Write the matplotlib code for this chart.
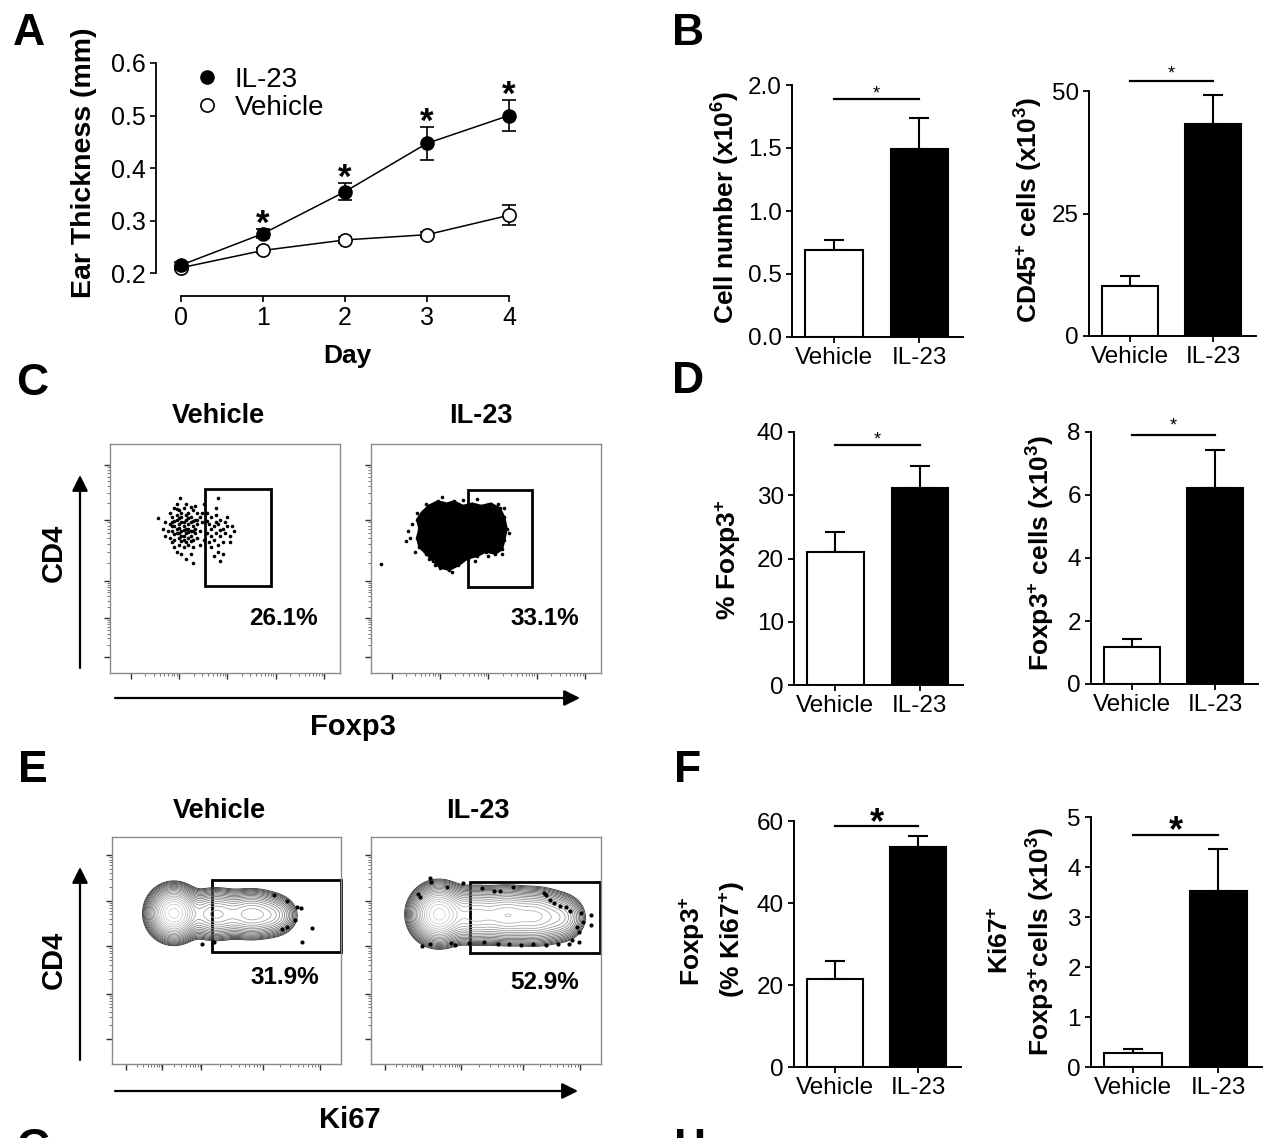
import numpy as np
import matplotlib
matplotlib.use("Agg")
from matplotlib import pyplot as plt
from matplotlib.lines import Line2D
from matplotlib.patches import Rectangle, Polygon, FancyArrowPatch

plt.rcParams['font.family'] = ['Liberation Sans', 'DejaVu Sans']
plt.rcParams['mathtext.fontset'] = 'custom'
plt.rcParams['mathtext.rm'] = 'Liberation Sans'
plt.rcParams['mathtext.bf'] = 'Liberation Sans:bold'
plt.rcParams['mathtext.it'] = 'Liberation Sans:italic'

W, H = 1266, 1138

# ---------------- data ----------------
days = [0, 1, 2, 3, 4]
il23_thick = [0.215, 0.275, 0.355, 0.447, 0.500]
il23_thick_err = [0.006, 0.008, 0.016, 0.032, 0.030]
veh_thick = [0.210, 0.243, 0.263, 0.273, 0.310]
veh_thick_err = [0.004, 0.005, 0.005, 0.005, 0.019]

groups = ['Vehicle', 'IL-23']
cell_number = [0.69, 1.49]
cell_number_err = [0.08, 0.25]
cd45_cells = [10.3, 43.3]
cd45_cells_err = [2.0, 5.8]
foxp3_pct = [21.1, 31.2]
foxp3_pct_err = [3.1, 3.5]
foxp3_cells = [1.16, 6.23]
foxp3_cells_err = [0.26, 1.21]
ki67_pct = [21.5, 53.7]
ki67_pct_err = [4.4, 2.7]
ki67_cells = [0.29, 3.53]
ki67_cells_err = [0.07, 0.83]

foxp3_gate_pct = ['26.1%', '33.1%']
ki67_gate_pct = ['31.9%', '52.9%']

# flow events (0-100 display units), Vehicle CD4/Foxp3 dot plot
veh_foxp3_pts = [
    (26, 70), (28, 72), (30, 71), (32, 72), (34, 70), (36, 71), (38, 70), (27, 68), (29, 67),
    (31, 68), (33, 67), (35, 68), (37, 67), (39, 68), (26, 65), (28, 64), (30, 65), (32, 64),
    (34, 65), (36, 64), (38, 65), (40, 66), (27, 62), (29, 61), (31, 62), (33, 61), (35, 62),
    (37, 61), (39, 62), (26, 59), (28, 58), (30, 59), (32, 58), (34, 59), (36, 58), (38, 59),
    (28, 55), (30, 56), (32, 55), (34, 56), (36, 55), (31, 52), (33, 50), (29, 53), (35, 52),
    (25, 62), (24, 66), (24, 60), (37, 73), (33, 74), (29, 74), (27, 66), (31, 66), (35, 66),
    (29, 63), (33, 63), (37, 63), (31, 60), (35, 60), (29, 69), (33, 69),
    (28, 66.5), (30, 67.5), (32, 66), (34, 67.5), (36, 66.5), (30, 63.5), (32, 62.5), (34, 63),
    (36, 62), (28, 60.5), (30, 61), (32, 60), (34, 61.5), (31, 57.5), (33, 57), (35, 57.5),
    (29, 71.5), (31, 70), (35, 72.5), (27, 64), (38, 67),
    (42, 70), (44, 68), (46, 69), (48, 67), (50, 66), (43, 65), (45, 64), (47, 65), (49, 63),
    (51, 64), (42, 61), (44, 60), (46, 61), (48, 60), (50, 61), (52, 60), (43, 57), (45, 58),
    (47, 56), (49, 57), (41, 58), (44, 55), (47, 53), (49, 52), (45, 51), (51, 68), (46, 72),
    (41, 74), (53, 64), (52, 57), (44, 63), (46, 66), (48, 62.5), (42, 66.5),
    (21, 67.7), (30.5, 76.4), (47, 76.4), (48, 49), (36, 48), (40, 70), (39, 56), (23, 63),
    (54, 62), (27, 57),
]
# IL-23 CD4/Foxp3 dot plot: outline of the saturated cloud plus edge events
il23_foxp3_outline = [
    (22, 70), (25, 73), (29, 75), (33, 74), (36, 75), (40, 73), (44, 74), (48, 73), (52, 74),
    (56, 72), (58, 68), (59, 63), (58, 58), (57, 54), (54, 52), (50, 53), (46, 51), (42, 50),
    (38, 47), (34, 45), (30, 46), (27, 49), (24, 52), (21, 55), (20, 59), (21, 63), (20, 67),
]
il23_foxp3_pts = [
    (15, 57.5), (16, 62), (17, 59), (18, 65), (19, 53), (20, 70), (24, 74), (31, 77), (40, 75.5),
    (46, 76), (55, 74), (58, 72), (60, 61), (57, 52), (51, 51), (35, 44), (28, 47), (25, 50),
    (45, 49), (53, 55), (4.3, 47.6),
]
# CD4/Ki67 contour plots: density peaks (x, y, sx, sy, weight) and outlier events
veh_ki67_peaks = [(27, 66.4, 4.6, 4.8, 1.0), (45, 66, 6, 4.6, 0.3),
                  (61, 66, 6, 4.4, 0.32), (71, 65.5, 4.5, 4.0, 0.12)]
il23_ki67_peaks = [(29.5, 66, 5.0, 5.2, 1.0), (45, 65.5, 6, 5.0, 0.38), (59, 65.5, 6, 5.0, 0.4),
                   (72, 65, 6, 5.0, 0.35), (83, 64.5, 4.5, 4.5, 0.15)]
veh_ki67_pts = [(70.8, 74.4), (76.5, 71.9), (81, 69.3), (82.4, 68.6), (79.7, 63.4), (76.5, 60.2),
                (87.3, 60), (82.8, 53.9), (39.2, 52.9), (44.6, 53.9), (74.4, 59.5)]
il23_ki67_pts = [
    (25.8, 81.8), (26.2, 80.3), (33, 78.1), (40.1, 79.6), (48.2, 77.4), (53.6, 76.4), (55.9, 76.4),
    (61.6, 77.8), (75.1, 75.2), (76, 74.4), (77.8, 72.2), (79.6, 70.8), (82.3, 69.6), (84.9, 69.3),
    (86.7, 67.5), (91.2, 66.7), (95.7, 65.6), (92.1, 62.7), (95.7, 61.2), (89.4, 60.5), (90.3, 58.3),
    (87.6, 54.6), (90.3, 53.9), (85.9, 52.9), (81.4, 52.9), (76, 52.4), (70.6, 52.7), (65.2, 52.4),
    (59.9, 52.9), (55.4, 52.9), (49.1, 53.9), (42.8, 53.2), (36.6, 52.4), (34.8, 53.2), (25.8, 52.9),
    (22.2, 52.1), (20.4, 74.9), (21.3, 73.7),
]

fig = plt.figure(figsize=(W / 100, H / 100), dpi=100)


def px_axes(left, top, right, bottom):
    return fig.add_axes([left / W, 1 - bottom / H, (right - left) / W, (bottom - top) / H])


def fig_text(x, y, s, **kw):
    fig.text(x / W, 1 - y / H, s, **kw)


def fig_arrow(x0, y0, x1, y1):
    fig.add_artist(FancyArrowPatch((x0 / W, 1 - y0 / H), (x1 / W, 1 - y1 / H),
                                   transform=fig.transFigure, arrowstyle='-|>',
                                   mutation_scale=24, lw=1.6, color='black',
                                   shrinkA=0, shrinkB=0))


# ---------------- A: ear thickness ----------------
axA = px_axes(156, 63, 516, 296)
axA.errorbar(days, veh_thick, yerr=veh_thick_err, fmt='o-', color='black', mfc='white',
             mec='black', ms=9.5, mew=1.2, lw=1.1, capsize=5, elinewidth=1.2, capthick=1.2)
axA.errorbar(days, il23_thick, yerr=il23_thick_err, fmt='o-', color='black', mfc='black',
             ms=9.5, lw=1.1, capsize=5, elinewidth=1.2, capthick=1.2)
for d in days[1:]:
    axA.annotate('*', (d, il23_thick[d] + il23_thick_err[d]), xytext=(0, -3.5),
                 textcoords='offset points', ha='center', va='baseline',
                 fontsize=25, fontweight='bold')
axA.set_xlim(-0.305, 4.085)
axA.set_ylim(0.1562, 0.6)
axA.spines[['top', 'right']].set_visible(False)
axA.spines['left'].set_bounds(0.2, 0.6)
axA.spines['bottom'].set_bounds(0, 4)
for s in ['left', 'bottom']:
    axA.spines[s].set_linewidth(1.3)
axA.set_xticks(days)
axA.set_yticks([0.2, 0.3, 0.4, 0.5, 0.6])
axA.set_yticklabels(['0.2', '0.3', '0.4', '0.5', '0.6'])
axA.tick_params(direction='out', length=4.3, width=1.2, labelsize=18, pad=3)
handles = [Line2D([], [], ls='none', marker='o', ms=9.5, mfc='black', mec='black'),
           Line2D([], [], ls='none', marker='o', ms=9.5, mfc='white', mec='black', mew=1.2)]
axA.legend(handles, ['IL-23', 'Vehicle'], loc='upper left', frameon=False, fontsize=20,
           bbox_to_anchor=(193 / W, 1 - 67 / H), bbox_transform=fig.transFigure,
           borderpad=0, borderaxespad=0, handlelength=1, handletextpad=0.5, labelspacing=0.08)
fig_text(84, 163, 'Ear Thickness (mm)', rotation=90, ha='center', va='center',
         fontsize=20.5, fontweight='bold')
fig_text(347, 363, 'Day', ha='center', va='baseline', fontsize=19, fontweight='bold')

# ---------------- B, D, F: bar charts ----------------
bar_panels = [
    dict(box=(792, 85, 963, 337), vals=cell_number, errs=cell_number_err, ylim=2.0,
         ticks=['0.0', '0.5', '1.0', '1.5', '2.0'], sig=1.886, gap=12, big=False,
         label=[(726, 207, r'Cell number (x10$^{\mathbf{6}}$)')]),
    dict(box=(1089, 91, 1256, 336), vals=cd45_cells, errs=cd45_cells_err, ylim=50,
         ticks=['0', '25', '50'], sig=52.0, gap=13, big=False,
         label=[(1029, 210, r'CD45$^{\mathbf{+}}$ cells (x10$^{\mathbf{3}}$)')]),
    dict(box=(794, 432, 963, 685), vals=foxp3_pct, errs=foxp3_pct_err, ylim=40,
         ticks=['0', '10', '20', '30', '40'], sig=38.0, gap=11, big=False,
         label=[(728, 560, r'% Foxp3$^{\mathbf{+}}$')]),
    dict(box=(1091, 432, 1258, 684), vals=foxp3_cells, errs=foxp3_cells_err, ylim=8,
         ticks=['0', '2', '4', '6', '8'], sig=7.9, gap=15, big=False,
         label=[(1041, 553, r'Foxp3$^{\mathbf{+}}$ cells (x10$^{\mathbf{3}}$)')]),
    dict(box=(794, 821, 961, 1067), vals=ki67_pct, errs=ki67_pct_err, ylim=60,
         ticks=['0', '20', '40', '60'], sig=58.9, gap=14, big=True,
         label=[(692, 941, r'Foxp3$^{\mathbf{+}}$'), (732, 940, r'(% Ki67$^{\mathbf{+}}$)')]),
    dict(box=(1091, 817, 1262, 1067), vals=ki67_cells, errs=ki67_cells_err, ylim=5,
         ticks=['0', '1', '2', '3', '4', '5'], sig=4.64, gap=15, big=True,
         label=[(1001, 940, r'Ki67$^{\mathbf{+}}$'),
                (1041, 942, r'Foxp3$^{\mathbf{+}}$cells (x10$^{\mathbf{3}}$)')]),
]

for p in bar_panels:
    ax = px_axes(*p['box'])
    x = np.arange(len(groups))
    ax.bar(x, p['vals'], width=0.67, color=['white', 'black'], edgecolor='black',
           linewidth=1.5, zorder=2)
    ax.errorbar(x, p['vals'], yerr=[[0, 0], p['errs']], fmt='none', ecolor='black',
                elinewidth=1.5, capsize=7, capthick=1.5, zorder=1)
    ax.set_xlim(-0.49, 1.51)
    ax.set_ylim(0, p['ylim'])
    ax.set_xticks(x)
    ax.set_xticklabels(groups)
    yt = np.linspace(0, p['ylim'], len(p['ticks']))
    ax.set_yticks(yt)
    ax.set_yticklabels(p['ticks'])
    ax.spines[['top', 'right']].set_visible(False)
    for s in ['left', 'bottom']:
        ax.spines[s].set_linewidth(1.4)
    ax.tick_params(direction='out', length=4.3, width=1.3, labelsize=17.5, pad=3)
    ax.plot([0, 1], [p['sig'], p['sig']], color='black', lw=1.6, clip_on=False)
    if p['big']:
        em = 26 * 100 / 72
        ax.annotate('*', (0.5, p['sig']), xytext=(0, (p['gap'] - 0.59 * em) * 0.72),
                    textcoords='offset points', ha='center', va='baseline',
                    fontsize=26, fontweight='bold', annotation_clip=False)
    else:
        em = 13 * 100 / 72
        ax.annotate('*', (0.5, p['sig']), xytext=(0, (p['gap'] - 0.59 * em) * 0.72),
                    textcoords='offset points', ha='center', va='baseline',
                    fontsize=13, annotation_clip=False)
    for lx, ly, s in p['label']:
        fig_text(lx, ly, s, rotation=90, ha='center', va='center', fontsize=19,
                 fontweight='bold')


# ---------------- C, E: flow cytometry plots ----------------
def log_minor(major):
    return [a + (b - a) * np.log10(k) for a, b in zip(major[:-1], major[1:]) for k in range(2, 10)]


def flow_axes(box, major_x, major_y):
    ax = px_axes(*box)
    ax.set_xlim(0, 100)
    ax.set_ylim(0, 100)
    for s in ax.spines.values():
        s.set_color('#8a8a8a')
        s.set_linewidth(1.0)
    ax.set_xticks(major_x)
    ax.set_yticks(major_y)
    ax.set_xticks(log_minor(major_x), minor=True)
    ax.set_yticks(log_minor(major_y), minor=True)
    ax.tick_params(which='major', direction='out', length=4, width=1.0, colors='#303030',
                   labelbottom=False, labelleft=False)
    ax.tick_params(which='minor', direction='out', length=2, width=0.6, colors='#606060')
    return ax


cx_major, cy_major = [9, 30, 51, 72, 93], [7, 24, 40, 67, 91]
ex_major, ey_major = [6, 22, 39, 66, 91], [11, 31, 52, 72, 92]

axC1 = flow_axes((110, 444, 340, 673), cx_major, cy_major)
vx, vy = zip(*veh_foxp3_pts)
axC1.plot(vx, vy, 'o', color='black', ms=2.6, mew=0)
axC1.add_patch(Rectangle((41.4, 38), 28.6, 42.3, fill=False, lw=2, ec='black'))

axC2 = flow_axes((371, 444, 601, 673), cx_major, cy_major)
axC2.add_patch(Polygon(il23_foxp3_outline, closed=True, fc='black', ec='black', lw=1.5))
ox, oy = zip(*(il23_foxp3_outline + il23_foxp3_pts))
axC2.plot(ox, oy, 'o', color='black', ms=2.6, mew=0)
axC2.add_patch(Rectangle((42, 37.7), 28.2, 42, fill=False, lw=2, ec='black', zorder=3))

gx = np.linspace(0, 100, 400)
GX, GY = np.meshgrid(gx, gx)
levels = np.geomspace(0.012, 0.9, 20)
level_colors = [plt.cm.Greys(v) for v in np.linspace(0.85, 0.28, len(levels))]


def draw_contours(ax, peaks, pts):
    dens = np.zeros_like(GX)
    for cx, cy, sx, sy, w in peaks:
        dens += w * np.exp(-((GX - cx) ** 2 / (2 * sx ** 2) + (GY - cy) ** 2 / (2 * sy ** 2)))
    ax.contour(GX, GY, dens, levels=levels, colors=level_colors, linewidths=0.6)
    px, py = zip(*pts)
    ax.plot(px, py, 'o', color='black', ms=3, mew=0)


axE1 = flow_axes((112, 837, 341, 1064), ex_major, ey_major)
draw_contours(axE1, veh_ki67_peaks, veh_ki67_pts)
axE1.add_patch(Rectangle((43.6, 49.3), 56.2, 31.7, fill=False, lw=2, ec='black',
                         clip_on=False))

axE2 = flow_axes((371, 837, 601, 1064), ex_major, ey_major)
draw_contours(axE2, il23_ki67_peaks, il23_ki67_pts)
axE2.add_patch(Rectangle((42.9, 48.9), 56.6, 31.3, fill=False, lw=2, ec='black',
                         clip_on=False))

for ax, s, y in [(axC1, foxp3_gate_pct[0], 24), (axC2, foxp3_gate_pct[1], 24),
                 (axE1, ki67_gate_pct[0], 37.9), (axE2, ki67_gate_pct[1], 36.1)]:
    ax.text(75.5, y, s, ha='center', va='center', fontsize=17.5, fontweight='bold')

for x, y, s in [(218, 423, 'Vehicle'), (481, 423, 'IL-23'),
                (219, 818, 'Vehicle'), (478, 818, 'IL-23')]:
    fig_text(x, y, s, ha='center', va='baseline', fontsize=19.5, fontweight='bold')

fig_arrow(80, 668, 80, 475)
fig_arrow(115, 698, 580, 698)
fig_text(54, 553, 'CD4', rotation=90, ha='center', va='center', fontsize=21, fontweight='bold')
fig_text(353, 735, 'Foxp3', ha='center', va='baseline', fontsize=21, fontweight='bold')

fig_arrow(80, 1060, 80, 867)
fig_arrow(115, 1091, 578, 1091)
fig_text(54, 960, 'CD4', rotation=90, ha='center', va='center', fontsize=21, fontweight='bold')
fig_text(350, 1128, 'Ki67', ha='center', va='baseline', fontsize=21, fontweight='bold')

# ---------------- panel letters (G and H are cut by the bottom edge, as in the source) ----------------
for x, y, s in [(13, 45, 'A'), (672, 45, 'B'), (16, 395, 'C'), (672, 393, 'D'),
                (18, 782, 'E'), (674, 782, 'F'), (16, 1160, 'G'), (674, 1160, 'H')]:
    fig_text(x, y, s, ha='left', va='baseline', fontsize=32, fontweight='bold')

fig.savefig('out.png', dpi=100)
